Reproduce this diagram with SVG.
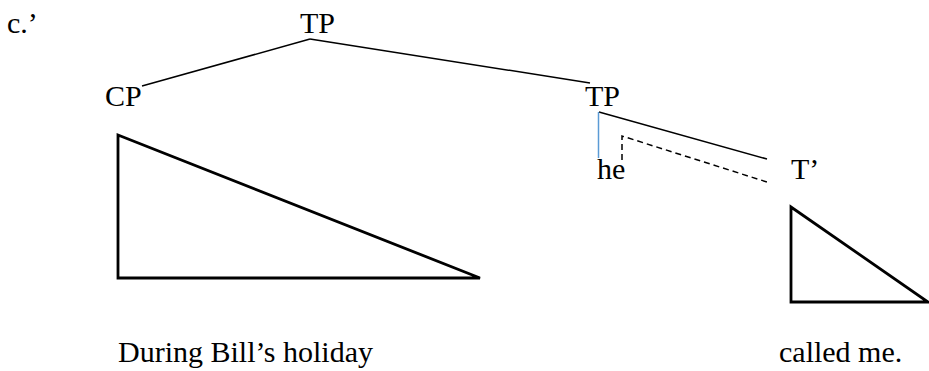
<svg xmlns="http://www.w3.org/2000/svg" width="929" height="371" viewBox="0 0 929 371">
<style>
text{font-family:"Liberation Serif","Times New Roman",serif;font-size:30px;fill:#000}
.e{stroke:#000;stroke-width:1.5;fill:none}
.d{stroke:#000;stroke-width:1.5;fill:none;stroke-dasharray:6 4}
.tri{stroke:#000;stroke-width:2.8;fill:none;stroke-linejoin:miter}
</style>
<rect width="929" height="371" fill="#fff"/>
<text x="7" y="33">c.’</text>
<g id="TP1"><text x="300" y="33">TP</text></g>
<g id="CP"><text x="105" y="106">CP</text></g>
<g id="TP2"><text x="585" y="106">TP</text></g>
<g id="he"><text x="597" y="179">he</text></g>
<g id="Tbar"><text x="791" y="179">T’</text></g>
<g id="triCP"><polygon class="tri" points="118,135 118,278 480,278"/></g>
<g id="triT"><polygon class="tri" points="791,207 791,302 928,302"/></g>
<g id="lab1"><text x="118" y="362">During Bill’s holiday</text></g>
<g id="lab2"><text x="779" y="362">called me.</text></g>
<g id="connectors">
<line class="e" x1="310" y1="39" x2="142" y2="86"/>
<line class="e" x1="310" y1="39" x2="590" y2="83"/>
<line class="e" x1="599" y1="112" x2="767" y2="159"/>
<line x1="598.5" y1="112" x2="598.5" y2="158" stroke="#5b9bd5" stroke-width="1.5"/>
<polyline class="d" points="622,160 622,136 767,182"/>
</g>
</svg>
